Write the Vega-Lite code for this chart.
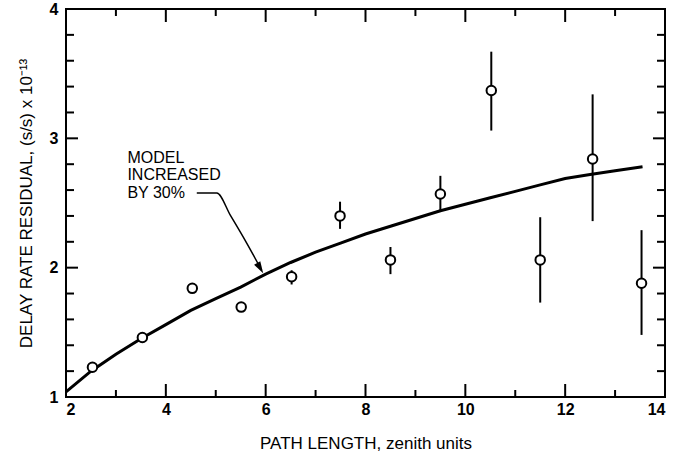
{
  "$schema": "https://vega.github.io/schema/vega-lite/v6.json",
  "width": 599,
  "height": 388,
  "autosize": "none",
  "padding": {"left": 66, "top": 9, "right": 19, "bottom": 56},
  "background": "white",
  "config": {
    "view": {"stroke": "black", "strokeWidth": 2},
    "axis": {
      "labelFont": "Liberation Sans",
      "labelFontSize": 16,
      "labelFontWeight": "bold",
      "labelColor": "black",
      "titleFont": "Liberation Sans",
      "titleFontSize": 17,
      "titleFontWeight": "normal",
      "titleColor": "black",
      "grid": false,
      "domain": false
    },
    "text": {"font": "Liberation Sans"}
  },
  "datasets": {
    "model": [
      {"x": 2, "y": 1.04}, {"x": 2.5, "y": 1.2}, {"x": 3, "y": 1.33}, {"x": 3.5, "y": 1.45},
      {"x": 4, "y": 1.56}, {"x": 4.5, "y": 1.67}, {"x": 5, "y": 1.76}, {"x": 5.5, "y": 1.85},
      {"x": 6, "y": 1.95}, {"x": 6.5, "y": 2.04}, {"x": 7, "y": 2.12}, {"x": 7.5, "y": 2.19},
      {"x": 8, "y": 2.26}, {"x": 8.5, "y": 2.32}, {"x": 9, "y": 2.38}, {"x": 9.5, "y": 2.44},
      {"x": 10, "y": 2.49}, {"x": 10.5, "y": 2.54}, {"x": 11, "y": 2.59}, {"x": 11.5, "y": 2.64},
      {"x": 12, "y": 2.69}, {"x": 12.5, "y": 2.72}, {"x": 13, "y": 2.75}, {"x": 13.55, "y": 2.78}
    ],
    "obs": [
      {"x": 2.53, "y": 1.23},
      {"x": 3.53, "y": 1.46},
      {"x": 4.53, "y": 1.84},
      {"x": 5.51, "y": 1.695},
      {"x": 6.52, "y": 1.93, "lo": 1.87, "hi": 1.98},
      {"x": 7.49, "y": 2.4, "lo": 2.3, "hi": 2.51},
      {"x": 8.5, "y": 2.06, "lo": 1.95, "hi": 2.16},
      {"x": 9.5, "y": 2.57, "lo": 2.43, "hi": 2.71},
      {"x": 10.52, "y": 3.37, "lo": 3.06, "hi": 3.67},
      {"x": 11.5, "y": 2.06, "lo": 1.73, "hi": 2.39},
      {"x": 12.55, "y": 2.84, "lo": 2.36, "hi": 3.34},
      {"x": 13.53, "y": 1.88, "lo": 1.48, "hi": 2.29}
    ],
    "note": [
      {"x": 3.23, "y": 2.848, "t": "MODEL"},
      {"x": 3.23, "y": 2.716, "t": "INCREASED"},
      {"x": 3.23, "y": 2.577, "t": "BY 30%"}
    ],
    "arrow": [
      {"i": 0, "x": 4.62, "y": 2.577},
      {"i": 1, "x": 5.02, "y": 2.577},
      {"i": 2, "x": 5.3, "y": 2.4},
      {"i": 3, "x": 5.62, "y": 2.19},
      {"i": 4, "x": 5.92, "y": 1.98}
    ],
    "tip": [{"x": 5.95, "y": 1.956}],
    "xmaj": [{"v": 2}, {"v": 4}, {"v": 6}, {"v": 8}, {"v": 10}, {"v": 12}, {"v": 14}],
    "xmin": [{"v": 3}, {"v": 5}, {"v": 7}, {"v": 9}, {"v": 11}, {"v": 13}],
    "ymaj": [{"v": 1}, {"v": 2}, {"v": 3}, {"v": 4}],
    "ymin": [{"v": 1.2}, {"v": 1.4}, {"v": 1.6}, {"v": 1.8}, {"v": 2.2}, {"v": 2.4}, {"v": 2.6}, {"v": 2.8}, {"v": 3.2}, {"v": 3.4}, {"v": 3.6}, {"v": 3.8}]
  },
  "layer": [
    {
      "data": {"name": "model"},
      "mark": {"type": "line", "color": "black", "strokeWidth": 3},
      "encoding": {
        "x": {
          "field": "x", "type": "quantitative",
          "scale": {"domain": [2, 14], "nice": false, "zero": false},
          "axis": {
            "orient": "bottom",
            "values": [2, 4, 6, 8, 10, 12, 14],
            "format": "d",
            "ticks": false,
            "labelPadding": 4,
            "title": "PATH LENGTH, zenith units",
            "titlePadding": 18
          }
        },
        "y": {
          "field": "y", "type": "quantitative",
          "scale": {"domain": [1, 4], "nice": false, "zero": false},
          "axis": {
            "orient": "left",
            "values": [1, 2, 3, 4],
            "format": "d",
            "ticks": false,
            "labelPadding": 8,
            "title": "DELAY RATE RESIDUAL, (s/s) x 10⁻¹³",
            "titlePadding": 14
          }
        }
      }
    },
    {
      "data": {"name": "xmaj"},
      "mark": {"type": "rule", "color": "black", "strokeWidth": 2, "y2Offset": -13},
      "encoding": {
        "x": {"field": "v", "type": "quantitative"},
        "y": {"datum": 1, "type": "quantitative"},
        "y2": {"datum": 1}
      }
    },
    {
      "data": {"name": "xmin"},
      "mark": {"type": "rule", "color": "black", "strokeWidth": 2, "y2Offset": -7},
      "encoding": {
        "x": {"field": "v", "type": "quantitative"},
        "y": {"datum": 1, "type": "quantitative"},
        "y2": {"datum": 1}
      }
    },
    {
      "data": {"name": "xmaj"},
      "mark": {"type": "rule", "color": "black", "strokeWidth": 2, "y2Offset": 13},
      "encoding": {
        "x": {"field": "v", "type": "quantitative"},
        "y": {"datum": 4, "type": "quantitative"},
        "y2": {"datum": 4}
      }
    },
    {
      "data": {"name": "xmin"},
      "mark": {"type": "rule", "color": "black", "strokeWidth": 2, "y2Offset": 7},
      "encoding": {
        "x": {"field": "v", "type": "quantitative"},
        "y": {"datum": 4, "type": "quantitative"},
        "y2": {"datum": 4}
      }
    },
    {
      "data": {"name": "ymaj"},
      "mark": {"type": "rule", "color": "black", "strokeWidth": 2, "x2Offset": 12},
      "encoding": {
        "y": {"field": "v", "type": "quantitative"},
        "x": {"datum": 2, "type": "quantitative"},
        "x2": {"datum": 2}
      }
    },
    {
      "data": {"name": "ymin"},
      "mark": {"type": "rule", "color": "black", "strokeWidth": 2, "x2Offset": 8},
      "encoding": {
        "y": {"field": "v", "type": "quantitative"},
        "x": {"datum": 2, "type": "quantitative"},
        "x2": {"datum": 2}
      }
    },
    {
      "data": {"name": "ymaj"},
      "mark": {"type": "rule", "color": "black", "strokeWidth": 2, "x2Offset": -12},
      "encoding": {
        "y": {"field": "v", "type": "quantitative"},
        "x": {"datum": 14, "type": "quantitative"},
        "x2": {"datum": 14}
      }
    },
    {
      "data": {"name": "ymin"},
      "mark": {"type": "rule", "color": "black", "strokeWidth": 2, "x2Offset": -8},
      "encoding": {
        "y": {"field": "v", "type": "quantitative"},
        "x": {"datum": 14, "type": "quantitative"},
        "x2": {"datum": 14}
      }
    },
    {
      "data": {"name": "obs"},
      "transform": [{"filter": "isValid(datum.lo)"}],
      "mark": {"type": "rule", "color": "black", "strokeWidth": 2},
      "encoding": {
        "x": {"field": "x", "type": "quantitative"},
        "y": {"field": "lo", "type": "quantitative"},
        "y2": {"field": "hi"}
      }
    },
    {
      "data": {"name": "obs"},
      "mark": {"type": "point", "shape": "circle", "filled": true, "fill": "white", "stroke": "black", "strokeWidth": 2, "size": 90, "opacity": 1},
      "encoding": {
        "x": {"field": "x", "type": "quantitative"},
        "y": {"field": "y", "type": "quantitative"}
      }
    },
    {
      "data": {"name": "note"},
      "mark": {"type": "text", "align": "left", "baseline": "middle", "fontSize": 16, "color": "black"},
      "encoding": {
        "x": {"field": "x", "type": "quantitative"},
        "y": {"field": "y", "type": "quantitative"},
        "text": {"field": "t"}
      }
    },
    {
      "data": {"name": "arrow"},
      "mark": {"type": "line", "color": "black", "strokeWidth": 1.5, "interpolate": "monotone"},
      "encoding": {
        "x": {"field": "x", "type": "quantitative"},
        "y": {"field": "y", "type": "quantitative"},
        "order": {"field": "i"}
      }
    },
    {
      "data": {"name": "tip"},
      "mark": {"type": "point", "shape": "M0,0L-0.3,-1L0.3,-1Z", "filled": true, "color": "black", "size": 576, "angle": -30, "opacity": 1},
      "encoding": {
        "x": {"field": "x", "type": "quantitative"},
        "y": {"field": "y", "type": "quantitative"}
      }
    }
  ]
}
